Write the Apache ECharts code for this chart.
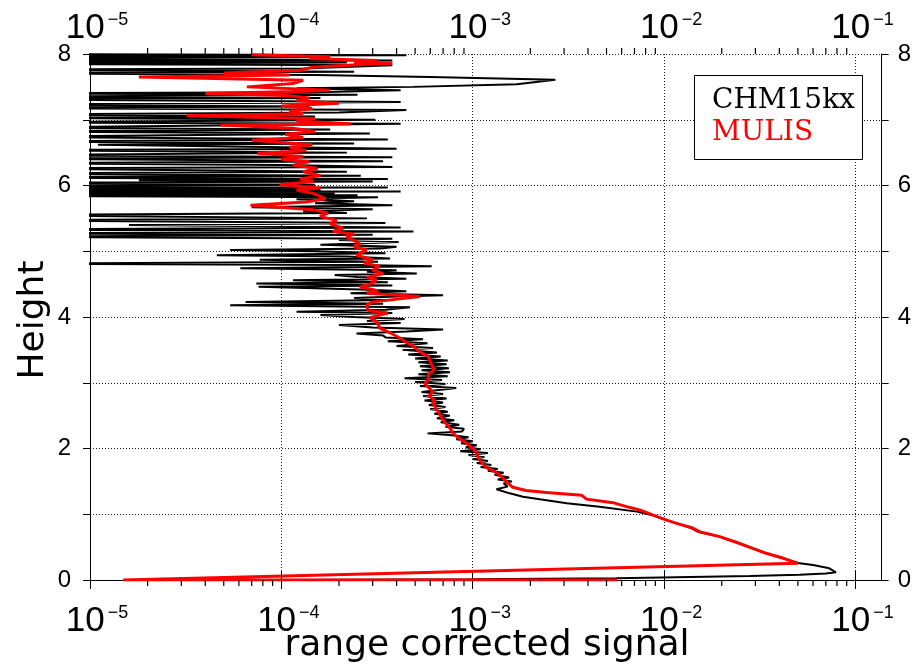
<!DOCTYPE html>
<html>
<head>
<meta charset="utf-8">
<script src="https://cdn.jsdelivr.net/npm/echarts@6/dist/echarts.min.js"></script>
<style>html,body{margin:0;padding:0;background:#fff}#c{width:914px;height:671px}</style>
</head>
<body>
<div id="c"></div>
<script>
// ---- axis ticks ----
const xDecades = [1e-5, 1e-4, 1e-3, 1e-2, 1e-1];
const xMinorMultipliers = [2, 3, 4, 5, 6, 7, 8, 9];
const yTickValues = [0, 1, 2, 3, 4, 5, 6, 7, 8];
const yLabelValues = [0, 2, 4, 6, 8];

// ---- series: [range corrected signal, height] ----
const chm15kx = [
 [1.0e-4,0.0],[1.0e-3,0.01],[5.6e-3,0.025],[2.8e-2,0.06],[5.1e-2,0.08],[7.0e-2,0.10],[7.9e-2,0.117],
 [7.3e-2,0.178],[6.0e-2,0.228],[5.0e-2,0.26],[4.2e-2,0.33],[3.4e-2,0.406],[2.9e-2,0.48],[2.4e-2,0.57],
 [1.95e-2,0.66],[1.5e-2,0.735],[1.38e-2,0.79],[1.2e-2,0.85],[1.03e-2,0.91],[8.6e-3,0.99],[7.2e-3,1.04],
 [4.6e-3,1.115],[3.1e-3,1.166],[2.24e-3,1.227],[1.83e-3,1.267],[1.56e-3,1.318],[1.33e-3,1.379],
 [1.52e-3,1.42],[1.45e-3,1.47],
 [1.6e-3,1.50],[1.35e-3,1.53],[1.55e-3,1.56],[1.3e-3,1.60],[1.45e-3,1.63],[1.2e-3,1.66],[1.35e-3,1.69],
 [1.1e-3,1.72],[1.25e-3,1.75],[1.05e-3,1.78],[1.2e-3,1.81],[1.0e-3,1.84],[1.15e-3,1.87],[9.5e-4,1.90],
 [1.2e-3,1.93],[8.6e-4,1.96],[1.1e-3,1.99],[9.2e-4,2.02],[1.05e-3,2.05],[8.7e-4,2.08],[1.0e-3,2.11],
 [8.2e-4,2.14],[9.5e-4,2.17],[7.8e-4,2.20],[5.8e-4,2.23],[8.8e-4,2.26],[9.0e-4,2.30],[7.2e-4,2.33],
 [8.5e-4,2.36],[6.8e-4,2.40],[8.0e-4,2.43],[6.5e-4,2.46],[7.6e-4,2.50],[6.3e-4,2.53],[7.4e-4,2.56],
 [6.0e-4,2.60],[7.2e-4,2.63],[5.9e-4,2.66],[7.0e-4,2.70],
 [5.6e-4,2.73],[7.3e-4,2.76],[5.5e-4,2.80],[7.0e-4,2.83],[5.4e-4,2.86],[8.2e-4,2.92],[5.3e-4,2.95],
 [7.2e-4,2.98],[5.0e-4,3.01],[6.9e-4,3.04],[4.4e-4,3.07],[7.4e-4,3.10],[5.2e-4,3.13],[7.6e-4,3.16],
 [5.4e-4,3.19],[7.5e-4,3.22],[5.3e-4,3.25],[7.3e-4,3.28],[5.2e-4,3.31],[7.4e-4,3.34],[5.0e-4,3.37],
 [6.8e-4,3.40],[4.6e-4,3.43],[6.5e-4,3.46],[4.3e-4,3.50],[6.2e-4,3.53],[4.0e-4,3.56],[5.8e-4,3.60],
 [3.6e-4,3.63],[5.5e-4,3.66],[3.5e-4,3.69],[3.4e-4,3.72],[2.47e-4,3.75],[4.5e-4,3.78],[7.0e-4,3.81],
 [3.0e-4,3.84],[2.0e-4,3.88],[4.2e-4,3.91],[2.8e-4,3.94],[4.4e-4,3.97],[2.4e-4,4.00],[1.6e-4,4.03],
 [3.8e-4,4.06],[1.2e-4,4.08],[3.5e-4,4.11],[4.7e-4,4.15],[5.4e-5,4.18],[3.4e-4,4.20],[6.5e-5,4.23],
 [3.6e-4,4.26],[2.4e-4,4.29],
 [4.0e-4,4.31],[7.0e-4,4.33],[2.3e-4,4.36],[4.5e-4,4.39],[2.6e-4,4.42],[7.6e-5,4.46],[3.8e-4,4.48],
 [7.4e-5,4.51],[3.6e-4,4.53],[1.15e-4,4.56],[4.5e-4,4.58],[2.5e-4,4.61],[1.9e-4,4.64],[5.1e-4,4.66],
 [2.8e-4,4.69],[4.0e-4,4.71],[6.1e-5,4.74],[6.1e-4,4.77],[2.5e-4,4.79],[3e-6,4.81],[3.2e-4,4.84],
 [7.7e-5,4.87],[3.7e-4,4.89],[2.2e-4,4.92],[4.6e-5,4.94],[3.5e-4,4.97],[1.5e-4,5.00],[5.4e-5,5.02],
 [3.3e-4,5.04],[4.0e-4,5.07],[1.6e-4,5.10],[4.1e-4,5.14],[2.0e-4,5.17],[3.8e-4,5.19],[3e-6,5.22],
 [3.0e-4,5.25],[3e-6,5.27],[4.9e-4,5.30],
 [3e-6,5.33],[4.2e-4,5.36],[1.6e-5,5.40],[3.5e-4,5.43],[3e-6,5.47],[2.8e-4,5.50],[3e-6,5.55],
 [2.2e-4,5.58],[1.3e-4,5.61],[3.0e-4,5.64],[7.0e-5,5.67],[3.8e-4,5.70],[1.5e-4,5.73],[2.4e-4,5.76],
 [1.2e-4,5.79],[3.2e-4,5.82],[3e-6,5.84],[2.5e-4,5.85],[3e-6,5.87],[1.9e-4,5.88],[3e-6,5.90],
 [4.2e-4,5.91],[3e-6,5.93],[1.6e-4,5.94],[3e-6,5.96],[3.6e-4,5.97],[3e-6,5.99],[1.5e-4,6.01],
 [3e-6,6.04],[3.0e-4,6.06],[1.8e-5,6.08],[3.6e-4,6.10],[3e-6,6.12],[2.6e-4,6.15],[3e-6,6.18],
 [2.2e-4,6.21],[3e-6,6.26],[3.8e-4,6.28],[1.0e-4,6.31],[3e-6,6.34],[3.4e-4,6.37],[3e-6,6.41],
 [3.8e-4,6.43],[3e-6,6.46],[2.2e-4,6.50],[3e-6,6.54],[4.0e-4,6.56],[1.1e-5,6.62],[2.4e-4,6.64],
 [3e-6,6.67],[3.6e-4,6.70],[3e-6,6.74],[2.9e-4,6.79],[3e-6,6.82],[1.8e-4,6.85],[3e-6,6.88],
 [4.2e-4,6.94],[3e-6,6.96],[3.1e-4,7.00],[3e-6,7.03],[1.5e-4,7.05],[3e-6,7.08],[2.0e-4,7.11],
 [4.5e-4,7.15],[3e-6,7.18],[1.4e-4,7.20],[3e-6,7.23],[4.2e-4,7.27],[3e-6,7.31],[1.6e-4,7.33],
 [3e-6,7.35],[2.5e-4,7.38],[3e-6,7.40],[1.5e-4,7.42],[4.2e-4,7.45],[1.2e-4,7.48],[4.9e-4,7.50],
 [1.7e-3,7.54],[2.7e-3,7.61],[6.0e-4,7.65],[1.5e-4,7.68],[3e-6,7.71],[2.4e-4,7.73],[3e-6,7.76],
 [1.3e-4,7.78],[3.8e-4,7.83],[3e-6,7.85],[2.2e-4,7.87],[3e-6,7.89],[3.8e-4,7.90],[3e-6,7.93],
 [1.5e-4,7.95],[3e-6,7.97],[4.5e-4,7.98],[3e-6,8.0]
];

const mulis = [
 [5.7e-3,0.0],[1.49e-5,0.0],[5.0e-2,0.254],[4.2e-2,0.33],[3.42e-2,0.406],[2.91e-2,0.48],[2.4e-2,0.57],
 [1.95e-2,0.66],[1.53e-2,0.735],[1.41e-2,0.79],[1.2e-2,0.85],[1.03e-2,0.91],[8.7e-3,0.99],[7.45e-3,1.065],
 [6.3e-3,1.12],[5.4e-3,1.176],[3.93e-3,1.23],[3.7e-3,1.29],[2.43e-3,1.33],[1.9e-3,1.36],[1.62e-3,1.41],
 [1.5e-3,1.495],[1.38e-3,1.60],[1.3e-3,1.65],[1.18e-3,1.71],[1.12e-3,1.78],[1.07e-3,1.85],[1.05e-3,1.92],
 [1.02e-3,1.98],[9.3e-4,2.08],[8.5e-4,2.15],[7.9e-4,2.23],[7.6e-4,2.31],[7.0e-4,2.43],[6.6e-4,2.56],
 [6.2e-4,2.69],[6.3e-4,2.74],[5.9e-4,2.80],[6.2e-4,2.86],[5.6e-4,2.99],[5.9e-4,3.05],[5.85e-4,3.12],
 [6.3e-4,3.20],[6.1e-4,3.27],[5.85e-4,3.40],[5.3e-4,3.47],[4.8e-4,3.57],[4.4e-4,3.63],[4.16e-4,3.68],
 [3.7e-4,3.76],[3.27e-4,3.83],[3.15e-4,3.93],[2.9e-4,3.99],[3.6e-4,4.06],[2.84e-4,4.10],[2.79e-4,4.18],
 [3.0e-4,4.23],[5.3e-4,4.31],[2.8e-4,4.36],[3.2e-4,4.40],[2.57e-4,4.46],[2.9e-4,4.50],[3.15e-4,4.56],
 [2.8e-4,4.60],[3.4e-4,4.66],[3.0e-4,4.71],[3.27e-4,4.77],[2.7e-4,4.82],[3.0e-4,4.87],[2.47e-4,4.94],
 [2.79e-4,5.02],[2.4e-4,5.07],[2.57e-4,5.12],[2.19e-4,5.22],[2.4e-4,5.26],[1.86e-4,5.30],[2.1e-4,5.35],
 [1.79e-4,5.42],[1.95e-4,5.47],[1.59e-4,5.53],[1.75e-4,5.58],[1.47e-4,5.63],[6.9e-5,5.70],[1.35e-4,5.75],
 [1.7e-4,5.80],[1.47e-4,5.88],[1.2e-4,5.93],[1.6e-4,5.96],[9.8e-5,6.01],[1.47e-4,6.06],[1.25e-4,6.10],
 [1.6e-4,6.15],[1.3e-4,6.21],[1.55e-4,6.26],[1.15e-4,6.31],[1.4e-4,6.36],[1.0e-4,6.40],[1.3e-4,6.44],
 [7.5e-5,6.49],[1.35e-4,6.53],[1.1e-4,6.58],[1.45e-4,6.62],[7.0e-5,6.69],[1.3e-4,6.73],[1.05e-4,6.78],
 [1.5e-4,6.82],[1.15e-4,6.87],[4.8e-5,6.92],[2.3e-4,6.94],[1.2e-4,6.98],[1.5e-4,7.02],[3.2e-5,7.06],
 [1.3e-4,7.09],[1.1e-4,7.13],[1.45e-4,7.17],[1.0e-4,7.21],[2.0e-4,7.25],[1.2e-4,7.29],[1.4e-4,7.33],
 [1.05e-4,7.37],[4.0e-5,7.40],[1.2e-4,7.43],[1.8e-4,7.45],[6.6e-5,7.50],[1.15e-4,7.55],[1.3e-4,7.60],
 [1.8e-5,7.65],[1.1e-4,7.68],[5.0e-5,7.71],[1.25e-4,7.75],[1.45e-4,7.80],[2.6e-4,7.84],[3.8e-4,7.86],
 [2.4e-4,7.88],[3.2e-4,7.90],[1.4e-4,7.93],[1.8e-4,7.96],[7.0e-5,7.99]
];

// ---- build chart ----
const X_MIN = 1e-5, X_MAX = 0.137, Y_MIN = 0, Y_MAX = 8;
const minorTickValues = [];
xDecades.forEach(d => xMinorMultipliers.forEach(m => {
  const v = d * m; if (v < X_MAX) minorTickValues.push(v);
}));

const sansTick = 'Liberation Sans';
const isDecade = v => xDecades.some(d => Math.abs(v / d - 1) < 1e-6);
const xLabelFormatter = v => {
  if (!isDecade(v)) return '';
  const e = Math.round(Math.log10(v));
  return '{b|10}{s|\u2212' + Math.abs(e) + '}';
};
const xRich = {
  b: {fontFamily: sansTick, fontSize: 35, color: '#000'},
  s: {fontFamily: sansTick, fontSize: 18, color: '#000', verticalAlign: 'top', padding: [0, 0, 0, 3]}
};
const dotted = {color: '#222', width: 1, type: [1, 2]};

function xAxisCfg(pos, showSplit, margin) {
  return {
    type: 'log', logBase: 10, min: X_MIN, max: X_MAX, position: pos,
    axisLine: {show: true, lineStyle: {color: '#000', width: 1}},
    axisTick: {show: true, inside: false, length: 9, lineStyle: {color: '#000', width: 1}},
    minorTick: {show: false},
    axisLabel: {show: true, formatter: xLabelFormatter, rich: xRich, margin: margin,
                padding: [0, 0, 0, 14], showMaxLabel: false, hideOverlap: false},
    splitLine: {show: showSplit, lineStyle: dotted}
  };
}
function yAxisCfg(pos, showSplit, margin) {
  return {
    type: 'value', min: Y_MIN, max: Y_MAX, interval: 1, position: pos,
    axisLine: {show: true, lineStyle: {color: '#000', width: 1}},
    axisTick: {show: true, inside: false, length: 7, lineStyle: {color: '#000', width: 1}},
    axisLabel: {show: true, margin: margin, fontFamily: sansTick, fontSize: 24, color: '#000',
                formatter: v => (yLabelValues.indexOf(v) >= 0 ? String(v) : '')},
    splitLine: {show: showSplit, lineStyle: dotted}
  };
}

const graphics = [
  {type: 'rect', z: 100, shape: {x: 694.5, y: 75.5, width: 168, height: 84},
   style: {fill: '#fff', stroke: '#000', lineWidth: 1}},
  {type: 'text', z: 101, x: 712, y: 101,
   style: {text: 'CHM15kx', fontFamily: 'DejaVu Serif', fontSize: 28, fill: '#000', verticalAlign: 'middle'}},
  {type: 'text', z: 101, x: 712, y: 133,
   style: {text: 'MULIS', fontFamily: 'DejaVu Serif', fontSize: 28, fill: '#ff0000', verticalAlign: 'middle'}},
  {type: 'text', z: 101, x: 34, y: 320, rotation: Math.PI / 2,
   style: {text: 'Height', fontFamily: 'DejaVu Sans', fontSize: 36, fill: '#000', align: 'center', verticalAlign: 'middle'}},
  {type: 'text', z: 101, x: 487, y: 646,
   style: {text: 'range corrected signal', fontFamily: 'DejaVu Sans', fontSize: 36, fill: '#000', align: 'center', verticalAlign: 'middle'}}
];

function minorTickSeries(yVal, offsetY) {
  return {
    type: 'scatter', xAxisIndex: 0, yAxisIndex: 0, silent: true, clip: false, z: 20,
    data: minorTickValues.map(v => [v, yVal]),
    symbol: 'rect', symbolSize: [1.2, 6], symbolOffset: [0, offsetY],
    itemStyle: {color: '#000', opacity: 1}, emphasis: {disabled: true}
  };
}

const chart = echarts.init(document.getElementById('c'), null, {renderer: 'canvas'});
chart.setOption({
  animation: false,
  backgroundColor: '#fff',
  grid: {left: 90, right: 31, top: 54, bottom: 91, show: false},
  xAxis: [xAxisCfg('bottom', true, 24), xAxisCfg('top', false, 8)],
  yAxis: [yAxisCfg('left', true, 19), yAxisCfg('right', false, 16)],
  series: [
    {
      name: 'CHM15kx', type: 'line', xAxisIndex: 0, yAxisIndex: 0, data: chm15kx,
      showSymbol: false, symbol: 'none', clip: true, z: 3,
      lineStyle: {color: '#000', width: 2}
    },
    {
      name: 'MULIS', type: 'line', xAxisIndex: 0, yAxisIndex: 0, data: mulis,
      showSymbol: false, symbol: 'none', clip: true, z: 4,
      lineStyle: {color: '#ff0000', width: 3}
    },
    minorTickSeries(Y_MIN, 3),
    minorTickSeries(Y_MAX, -3)
  ],
  graphic: graphics
});
</script>
</body>
</html>
